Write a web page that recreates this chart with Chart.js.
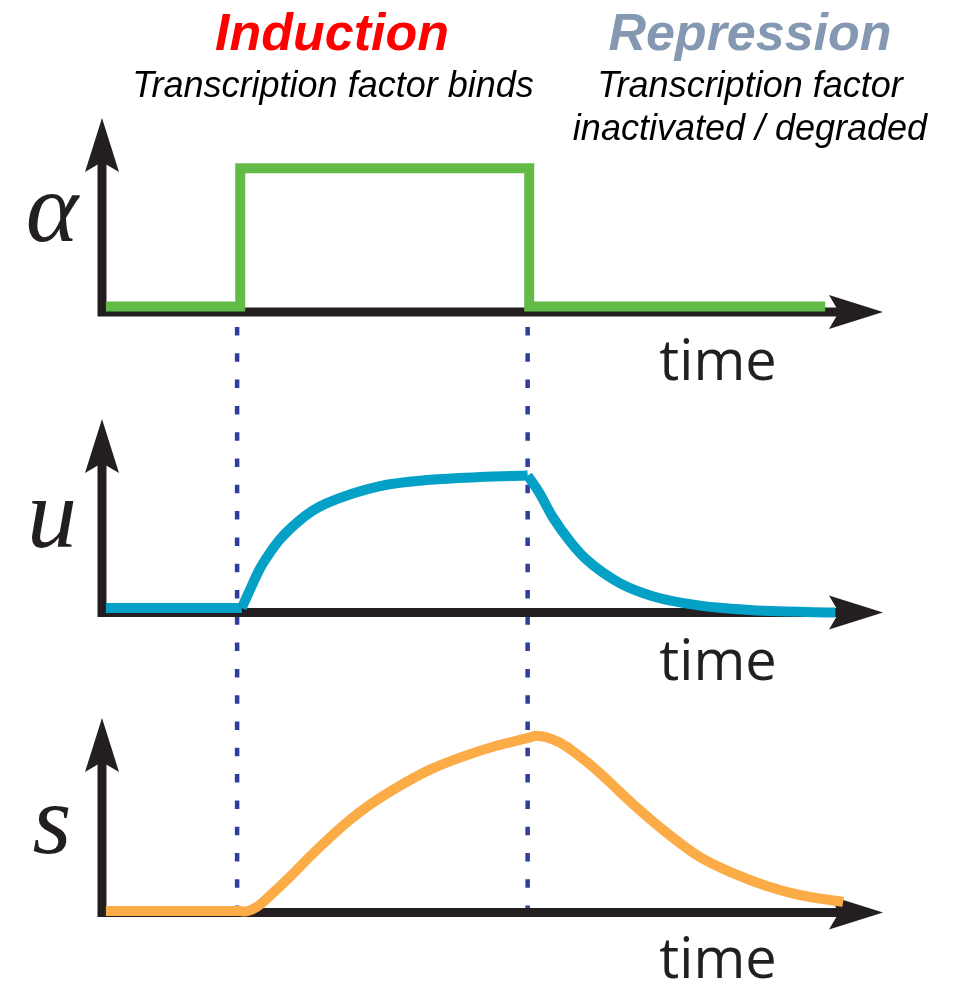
<!DOCTYPE html>
<html>
<head>
<meta charset="utf-8">
<script src="https://cdn.jsdelivr.net/npm/chart.js@4.4.1/dist/chart.umd.min.js"></script>
<style>
  body { margin: 0; background: #fff; }
  #wrap { position: relative; width: 961px; height: 984px; overflow: hidden; background: #fff; }
  canvas { position: absolute; left: 0; }
  .t { position: absolute; white-space: nowrap; text-align: center; }
  .head { font: italic bold 52px "Liberation Sans", Arial, sans-serif; line-height: 52px; width: 500px; }
  .sub { font: italic 36px "Liberation Sans", Arial, sans-serif; line-height: 43px; color: #000; width: 500px; }
  .time { font: 56px "Open Sans", sans-serif; line-height: 56px; color: #231f20; width: 200px; }
  .var { font: italic 100px "Liberation Serif", "Times New Roman", serif; line-height: 100px; color: #231f20; width: 100px; }
</style>
</head>
<body>
<div id="wrap">
  <canvas id="alphaChart" width="961" height="330" style="top:0px"></canvas>
  <canvas id="uChart" width="961" height="300" style="top:330px"></canvas>
  <canvas id="sChart" width="961" height="354" style="top:630px"></canvas>

  <div class="t head" style="left:82px; top:6px; color:#ff0000">Induction</div>
  <div class="t sub" style="left:83px; top:63px">Transcription factor binds</div>
  <div class="t head" style="left:500px; top:6px; color:#8598b2">Repression</div>
  <div class="t sub" style="left:500px; top:63px">Transcription factor<br>inactivated / degraded</div>

  <div class="t var" style="left:2px; top:158px">α</div>
  <div class="t var" style="left:2px; top:464px">u</div>
  <div class="t var" style="left:2px; top:770px">s</div>

  <div class="t time" style="left:618px; top:330px">time</div>
  <div class="t time" style="left:618px; top:630px">time</div>
  <div class="t time" style="left:618px; top:928px">time</div>
</div>
<script>
// time runs 0..100 from the vertical axis to the arrow tip
const eventTimes = [17.3, 54.5]; // induction, repression

const alphaTimes = [0.5, 17.7, 54.7, 92.6];
const alphaValues = [0.038, 1, 0.038, 0.038];

const uTimes = [0.5, 17.9, 18.95, 20.2, 21.5, 22.8, 25.0, 27.0, 28.8, 35.6, 42.0, 48.4, 54.5,
                56.0, 57.7, 60.0, 62.1, 66.3, 70.5, 74.9, 79.1, 85.5, 93.9];
const uValues = [0.033, 0.033, 0.165, 0.315, 0.432, 0.530, 0.652, 0.738, 0.792, 0.915, 0.960, 0.980, 0.991,
                 0.865, 0.691, 0.510, 0.380, 0.213, 0.118, 0.064, 0.034, 0.010, 0.0];
const uKinks = [17.9, 54.5]; // sharp corners of u

const sTimes = [0.5, 17.4, 18.3, 19.8, 21.5, 24.1, 26.6, 29.2, 31.7, 34.3, 37.8, 42.0, 46.1, 50.5, 54.8, 55.6,
                58.6, 61.2, 63.7, 66.3, 68.8, 72.3, 76.5, 80.7, 85.1, 89.3, 94.9];
const sValues = [0.0085, 0.0085, 0.006, 0.031, 0.095, 0.203, 0.315, 0.425, 0.522, 0.610, 0.708, 0.808, 0.880, 0.943, 0.990, 1.0,
                 0.961, 0.882, 0.791, 0.683, 0.581, 0.451, 0.315, 0.224, 0.150, 0.099, 0.060];

const axisColor = '#231f20';
const dotColor = '#2f3e9c';

function points(ts, vs) {
  return ts.map((t, i) => ({ x: t, y: vs[i] }));
}

// cut a series at its kinks so each piece is smoothed on its own
function pieces(ts, vs, kinks) {
  const out = [];
  let cur = [];
  ts.forEach((t, i) => {
    cur.push({ x: t, y: vs[i] });
    if (kinks.includes(t)) {
      out.push(cur);
      cur = [{ x: t, y: vs[i] }];
    }
  });
  if (cur.length > 1) out.push(cur);
  return out;
}

function lineSet(data, color, extra) {
  return Object.assign({
    data: data,
    borderColor: color,
    borderWidth: 10,
    pointRadius: 0,
    fill: false,
    borderCapStyle: 'butt',
    borderJoinStyle: 'round',
    cubicInterpolationMode: 'monotone',
    clip: false
  }, extra || {});
}

const axesPlugin = {
  id: 'axes',
  beforeDatasetsDraw(chart, args, opts) {
    const { ctx, chartArea: a, scales: { x } } = chart;
    const top = chart.canvas.offsetTop;
    ctx.save();

    // dotted guides at induction / repression
    const y0 = opts.from === 'axis' ? a.bottom + 15 : 0;
    const y1 = opts.to === 'axis' ? a.bottom : chart.height;
    const period = 26.3;
    ctx.strokeStyle = dotColor;
    ctx.lineWidth = 4.5;
    ctx.setLineDash([8.5, period - 8.5]);
    ctx.lineDashOffset = ((top + y0 - 327) % period + period) % period;
    eventTimes.forEach(t => {
      const px = x.getPixelForValue(t);
      ctx.beginPath();
      ctx.moveTo(px, y0);
      ctx.lineTo(px, y1);
      ctx.stroke();
    });

    // axes with arrow heads
    ctx.setLineDash([]);
    ctx.strokeStyle = axisColor;
    ctx.fillStyle = axisColor;
    ctx.lineWidth = 9;
    ctx.beginPath();
    ctx.moveTo(a.left, a.bottom + 4.5);
    ctx.lineTo(a.left, a.top + 44);
    ctx.moveTo(a.left - 4.5, a.bottom);
    ctx.lineTo(a.right - 44, a.bottom);
    ctx.stroke();

    ctx.beginPath();
    ctx.moveTo(a.left, a.top);
    ctx.lineTo(a.left + 17, a.top + 54);
    ctx.lineTo(a.left, a.top + 44);
    ctx.lineTo(a.left - 17, a.top + 54);
    ctx.closePath();
    ctx.moveTo(a.right, a.bottom);
    ctx.lineTo(a.right - 54, a.bottom + 17);
    ctx.lineTo(a.right - 44, a.bottom);
    ctx.lineTo(a.right - 54, a.bottom - 17);
    ctx.closePath();
    ctx.fill();
    ctx.restore();
  }
};

function panel(id, datasets, yMax, pad, dots) {
  const ctx = document.getElementById(id).getContext('2d');
  return new Chart(ctx, {
    type: 'line',
    data: { datasets: datasets },
    options: {
      responsive: false,
      animation: false,
      events: [],
      layout: { padding: pad },
      plugins: {
        legend: { display: false },
        tooltip: { enabled: false },
        axes: dots
      },
      scales: {
        x: { type: 'linear', min: 0, max: 100, display: false },
        y: { type: 'linear', min: 0, max: yMax, display: false }
      }
    },
    plugins: [axesPlugin]
  });
}

panel('alphaChart',
  [lineSet(points(alphaTimes, alphaValues), '#62bb47', { stepped: 'before', borderJoinStyle: 'miter', cubicInterpolationMode: 'default' })],
  1.35, { top: 118, bottom: 18, left: 102, right: 78 }, { from: 'axis', to: 'bottom' });

panel('uChart',
  pieces(uTimes, uValues, uKinks).map(p => lineSet(p, '#04a0c6')),
  1.4, { top: 89, bottom: 17.5, left: 102, right: 78 }, { from: 'top', to: 'bottom' });

panel('sChart',
  [lineSet(points(sTimes, sValues), '#fbac47')],
  1.1, { top: 88, bottom: 71.5, left: 102, right: 78 }, { from: 'top', to: 'axis' });
</script>
</body>
</html>
